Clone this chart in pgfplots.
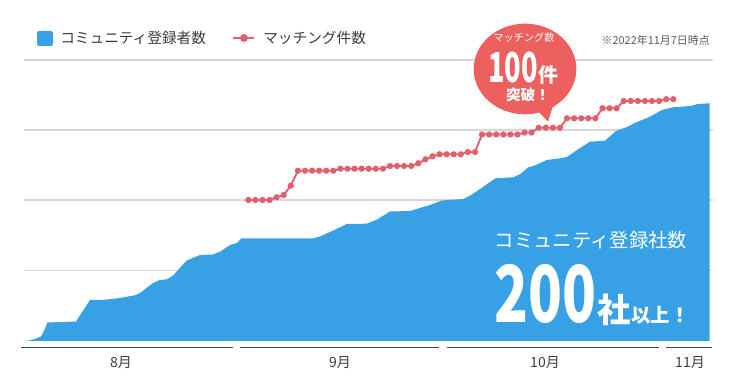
\documentclass[border=0pt]{standalone}
\usepackage{pgfplots}
\pgfplotsset{compat=1.18}
\usepackage{fontspec}
\setmainfont{Noto Sans CJK JP}
\newfontfamily\jp{Noto Sans CJK JP}
\definecolor{areablue}{RGB}{56,160,228}
\definecolor{linered}{RGB}{224,96,110}
\definecolor{balloon}{RGB}{236,96,96}
\definecolor{txt}{RGB}{60,60,60}
\definecolor{axisdark}{RGB}{60,77,87}
\definecolor{gridgray}{RGB}{215,215,215}
\newcommand{\fs}[1]{\fontsize{#1}{#1}\selectfont}
\begin{document}
\begin{tikzpicture}
\begin{axis}[
  width=550.5pt, height=288pt, scale only axis,
  xmin=0, xmax=734, ymin=0, ymax=384,
  axis lines=none, clip=false,
  xtick=\empty, ytick=\empty,
]
% full canvas (bounding box)
\path (rel axis cs:0,0) rectangle (rel axis cs:1,1);
% grid lines
\draw[gridgray, line width=0.9pt] (axis cs:24,324) -- (axis cs:713,324);
\draw[gridgray, line width=0.9pt] (axis cs:24,254) -- (axis cs:713,254);
\draw[gridgray, line width=0.9pt] (axis cs:24,184) -- (axis cs:713,184);
\draw[gridgray, line width=0.9pt] (axis cs:24,113.5) -- (axis cs:713,113.5);

% community registrations (area)
\addplot[fill=areablue, draw=none] coordinates {
(24,43) (24,42.5) (35,45) (41,47.5) (44,53) (47.5,61.5) (76,62.5) (90,84) (102,84)
(118,85.7) (135,88.7) (140,91) (153,101) (160,104) (167,104.7) (173,108.5)
(186.7,123.5) (200,129) (213,129.5) (220,132.3) (230,139) (237,141) (241.7,145.7)
(313.3,145.7) (320,147.5) (333.3,153.5) (346.7,160) (366.7,160.3) (376.7,164.3)
(390,172.5) (410,173) (420,176) (430,179) (442,183.5) (463.5,185) (472,189.5)
(483,197) (490,202) (495.3,205.7) (513.5,206.7) (520.3,210) (528.3,216.7)
(533.7,218) (546.7,224) (560,225.7) (567,227) (577,234) (590,242.3) (605,243.3)
(616,253) (627,257) (634,260.7) (650,267.3) (661.7,274) (673.3,276.7) (690,278)
(698.3,280) (709.5,280.7) (709.5,43)
};

% matchings (line)
\addplot[linered, line width=1.4pt, mark=*, mark size=1.6pt, mark options={fill=linered, draw=linered}] coordinates {
(248.3,184) (255.4,184) (262.5,184) (269.6,184) (276.6,186.7) (283.7,189)
(290.8,198.3) (297.9,213.3) (305.0,213.3) (312.1,213.3) (319.1,213.3) (326.2,213.3)
(333.3,213.3) (340.4,215.3) (347.5,215.3) (354.5,215.3) (361.6,215.3) (368.7,215.3)
(375.8,215.3) (382.9,215.3) (390.0,218) (397.0,218) (404.1,218) (411.2,218)
(418.3,220.7) (425.4,224.7) (432.5,227.7) (439.5,229.7) (446.6,229.7) (453.7,229.7)
(460.8,229.7) (467.9,232) (475.0,232) (482.0,249.5) (489.1,249.5) (496.2,249.5)
(503.3,249.5) (510.4,249.5) (517.5,249.5) (524.5,251.5) (531.6,251.5) (538.7,256.3)
(545.8,256.3) (552.9,256.3) (560.0,256.3) (567.0,265.7) (574.1,265.7) (581.2,265.7)
(588.3,265.7) (595.4,265.7) (602.5,275.7) (609.5,275.7) (616.6,275.7) (623.7,283)
(630.8,283) (637.9,283) (645.0,283) (652.0,283) (659.1,283) (666.2,284.8) (673.3,284.8)
};

% month axis segments
\draw[axisdark, line width=1.1pt] (axis cs:21,36.5) -- (axis cs:233,36.5);
\draw[axisdark, line width=1.1pt] (axis cs:240,36.5) -- (axis cs:439,36.5);
\draw[axisdark, line width=1.1pt] (axis cs:447,36.5) -- (axis cs:659,36.5);
\draw[axisdark, line width=1.1pt] (axis cs:666,36.5) -- (axis cs:712,36.5);
\node[txt, font=\jp\fs{10.5pt}] at (axis cs:121,21) {8月};
\node[txt, font=\jp\fs{10.5pt}] at (axis cs:340,21) {9月};
\node[txt, font=\jp\fs{10.5pt}] at (axis cs:545,21) {10月};
\node[txt, font=\jp\fs{10.5pt}] at (axis cs:690,21) {11月};

% legend
\fill[areablue, rounded corners=1.5pt] (axis cs:37,338) rectangle (axis cs:53,353);
\node[txt, anchor=west, font=\jp\fs{11pt}, inner sep=0pt] at (axis cs:60,346) {コミュニティ登録者数};
\draw[linered, line width=1.4pt] (axis cs:233,346) -- (axis cs:254,346);
\fill[linered] (axis cs:244,346) circle (3pt);
\node[txt, anchor=west, font=\jp\fs{11pt}, inner sep=0pt] at (axis cs:263,346) {マッチング件数};
\node[txt!85, anchor=east, font=\jp\fs{8.2pt}, inner sep=0pt] at (axis cs:710,344) {※2022年11月7日時点};

% balloon
\fill[balloon] (axis cs:535,276) -- (axis cs:548,262.3) -- (axis cs:553,278) -- cycle;
\fill[balloon] (axis cs:525,315) ellipse [x radius=38.5pt, y radius=34pt];
\node[white, font=\jp\fs{7.6pt}, inner sep=0pt] at (axis cs:524,346) {マッチング数};
\node[white, anchor=base west, inner sep=0pt] at (axis cs:488,301) {\scalebox{0.66}[1]{\jp\bfseries\fs{31pt}100}\hspace{0.5pt}{\jp\bfseries\fs{15pt}件}};
\node[white, font=\jp\bfseries\fs{11pt}, inner sep=0pt] at (axis cs:528,289) {突破！};

% big annotation
\node[white, font=\jp\fs{14.5pt}, inner sep=0pt] at (axis cs:591,144) {コミュニティ登録社数};
\node[white, anchor=base west, inner sep=0pt] at (axis cs:494,61) {\scalebox{0.71}[1]{\jp\bfseries\fs{59pt}200}\hspace{1pt}{\jp\bfseries\fs{25pt}社}\hspace{0.5pt}{\jp\bfseries\fs{14.5pt}以上！}};
\end{axis}
\end{tikzpicture}
\end{document}
